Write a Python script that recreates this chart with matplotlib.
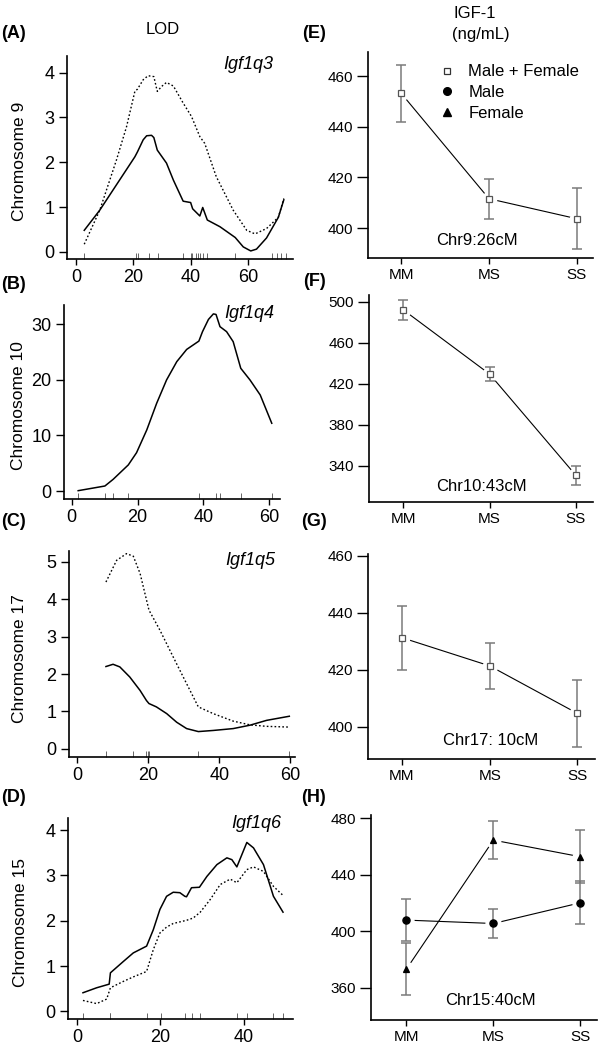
import matplotlib
matplotlib.use('Agg')
import matplotlib.pyplot as plt
from matplotlib.lines import Line2D

plt.rcParams['font.family'] = ['Liberation Sans', 'DejaVu Sans']

# ---------------- data ----------------
# (A) chromosome 9
A_solid_x = [2.9, 8.3, 20.5, 21.4, 23.4, 24.6, 26.3, 27.1, 28.3, 31.5, 33.9, 37.3, 39.9, 40.6,
             43.1, 44.1, 45.7, 50.1, 55.4, 58.2, 60.8, 62.8, 66.3, 70.4, 72.3]
A_solid_y = [0.48, 0.93, 2.12, 2.23, 2.50, 2.59, 2.60, 2.55, 2.27, 1.98, 1.60, 1.13, 1.10, 0.96,
             0.80, 0.99, 0.71, 0.56, 0.32, 0.11, 0.02, 0.06, 0.31, 0.77, 1.16]
A_dot_x = [2.9, 8.3, 14.1, 17.6, 20.5, 21.4, 23.4, 25.1, 27.1, 28.3, 29.8, 31.5, 33.9, 37.3,
           40.2, 43.1, 44.8, 48.8, 54.7, 59.4, 62.3, 66.3, 70.4, 72.3]
A_dot_y = [0.17, 0.93, 2.05, 2.79, 3.58, 3.63, 3.84, 3.93, 3.91, 3.58, 3.69, 3.78, 3.70, 3.32,
           3.02, 2.57, 2.42, 1.68, 0.93, 0.48, 0.40, 0.52, 0.77, 1.19]
A_markers = [2.8, 20.9, 21.5, 25.5, 28.6, 37.3, 39.9, 40.2, 41.7, 42.3, 43.1, 44.1, 45.5,
             55.3, 68.1, 69.8, 71.5, 73.0]

# (B) chromosome 10
B_x = [2.0, 10.1, 12.6, 17.2, 19.7, 22.8, 25.8, 28.8, 31.9, 34.9, 38.6, 39.7, 41.5, 43.0,
       43.8, 45.0, 47.0, 49.0, 51.3, 54.1, 57.2, 60.7]
B_y = [0.06, 0.9, 2.1, 4.7, 6.9, 11.0, 15.8, 20.0, 23.3, 25.5, 27.0, 28.7, 30.9, 31.9,
       31.8, 29.6, 28.7, 26.9, 22.1, 20.0, 17.3, 12.2]
B_markers = [2.0, 10.1, 12.6, 17.2, 38.6, 43.8, 45.0, 51.3, 60.7]

# (C) chromosome 17
C_solid_x = [8.1, 10.1, 12.0, 14.8, 17.7, 19.5, 20.2, 22.3, 25.2, 28.0, 30.8, 34.1, 38.3,
             43.9, 48.6, 53.3, 59.7]
C_solid_y = [2.20, 2.26, 2.19, 1.92, 1.56, 1.29, 1.21, 1.12, 0.94, 0.71, 0.54, 0.46, 0.49,
             0.54, 0.63, 0.76, 0.87]
C_dot_x = [8.1, 11.1, 13.9, 15.8, 17.7, 20.2, 23.3, 27.0, 30.8, 34.1, 38.3, 43.9, 48.6,
           53.3, 59.7]
C_dot_y = [4.46, 5.04, 5.22, 5.15, 4.69, 3.71, 3.17, 2.46, 1.74, 1.12, 0.94, 0.74, 0.64,
           0.60, 0.58]
C_markers = [8.1, 15.6, 19.5, 19.9, 20.2, 34.1, 59.7]

# (D) chromosome 15
D_solid_x = [1.4, 4.7, 7.7, 8.0, 11.1, 13.5, 16.7, 18.3, 19.9, 21.5, 23.1, 24.7, 25.9, 26.3,
             27.5, 29.4, 31.2, 33.6, 36.0, 37.2, 38.4, 40.8, 42.4, 44.8, 47.2, 49.5]
D_solid_y = [0.41, 0.52, 0.60, 0.85, 1.10, 1.29, 1.44, 1.80, 2.25, 2.54, 2.63, 2.62, 2.54, 2.53,
             2.73, 2.74, 2.98, 3.24, 3.39, 3.35, 3.19, 3.73, 3.61, 3.24, 2.54, 2.19]
D_dot_x = [1.4, 4.7, 7.1, 8.0, 11.1, 13.5, 16.7, 18.3, 19.9, 21.5, 23.1, 26.3, 27.9, 29.6,
           32.0, 34.4, 36.8, 38.4, 40.8, 42.4, 44.8, 47.2, 49.5]
D_dot_y = [0.24, 0.17, 0.27, 0.52, 0.66, 0.76, 0.88, 1.36, 1.73, 1.86, 1.94, 2.01, 2.06, 2.19,
           2.47, 2.80, 2.92, 2.84, 3.13, 3.19, 3.09, 2.76, 2.56]
D_markers = [1.4, 7.9, 8.0, 16.7, 20.1, 25.9, 27.5, 29.6, 38.4, 40.8, 47.2, 49.5]

# (E)-(H) IGF-1 by genotype
genotypes = ['MM', 'MS', 'SS']
E_mean = [453.2, 411.6, 403.7]
E_err = [11.3, 7.9, 12.0]
F_mean = [491.9, 429.3, 330.6]
F_err = [9.4, 6.5, 9.5]
G_mean = [431.3, 421.4, 404.7]
G_err = [11.3, 8.0, 11.8]
H_male_mean = [407.9, 405.5, 420.2]
H_male_err = [14.8, 10.1, 15.1]
H_female_mean = [373.1, 464.6, 452.8]
H_female_err = [18.5, 13.4, 18.9]

# ---------------- figure ----------------
W, H = 608, 1050
fig = plt.figure(figsize=(W / 100, H / 100), dpi=100)


def add_axes(l, r, t, b):
    return fig.add_axes([l / W, 1 - b / H, (r - l) / W, (b - t) / H])


def base_style(ax):
    for s in ['top', 'right']:
        ax.spines[s].set_visible(False)
    for s in ['left', 'bottom']:
        ax.spines[s].set_linewidth(1.2)


def lod_panel(ax, solids, dots, markers, xlim, ylim, yticks, xticks, ylabel, name,
              ylab_x, name_xy):
    base_style(ax)
    ax.tick_params(axis='y', which='major', direction='out', length=6, width=1.0,
                   labelsize=13, pad=3)
    ax.tick_params(axis='x', which='major', direction='out', length=4, width=1.0,
                   labelsize=13, pad=3)
    for x, y in solids:
        ax.plot(x, y, color='black', lw=1.1)
    for x, y in dots:
        ax.plot(x, y, color='black', lw=1.0, dashes=(1.2, 1.6))
    ax.set_xlim(*xlim)
    ax.set_ylim(*ylim)
    ax.set_xticks(xticks)
    ax.set_yticks(yticks)
    ax.set_xticks(markers, minor=True)
    ax.tick_params(axis='x', which='minor', direction='in', length=4, width=0.7,
                   color='#666666')
    ax.set_ylabel(ylabel, fontsize=12.5)
    ax.yaxis.set_label_coords(ylab_x, 0.48)
    ax.text(name_xy[0], name_xy[1], name, transform=ax.transAxes, fontsize=13,
            style='italic', ha='center', va='center')


def igf_panel(ax, series, xlim, ylim, yticks, label, label_xy):
    base_style(ax)
    ax.tick_params(axis='y', direction='out', length=8, width=1.0, labelsize=11, pad=3)
    ax.tick_params(axis='x', direction='out', length=4.5, width=1.0, labelsize=11, pad=2.5)
    xs = list(range(len(genotypes)))
    for mean, err, marker, ms, face in series:
        ax.plot(xs, mean, color='black', lw=0.8, zorder=1)
        ax.plot(xs, mean, linestyle='none', marker='o', ms=ms + 5.5, mfc='white',
                mec='white', zorder=2)
        ax.errorbar(xs, mean, yerr=err, fmt='none', ecolor='#7a7a7a', elinewidth=1.1,
                    capsize=3.4, capthick=1.1, zorder=3)
        ax.plot(xs, mean, linestyle='none', marker=marker, ms=ms, mfc=face,
                mec='#555555' if face == 'white' else 'black', mew=0.9, zorder=4)
    ax.set_xlim(*xlim)
    ax.set_ylim(*ylim)
    ax.set_xticks(xs)
    ax.set_xticklabels(genotypes)
    ax.set_yticks(yticks)
    ax.text(label_xy[0], label_xy[1], label, transform=ax.transAxes, fontsize=12,
            ha='center', va='center')


axA = add_axes(67, 293, 56, 259)
lod_panel(axA, [(A_solid_x, A_solid_y)], [(A_dot_x, A_dot_y)], A_markers,
          (-3.1, 75.5), (-0.16, 4.37), [0, 1, 2, 3, 4], [0, 20, 40, 60],
          'Chromosome 9', 'Igf1q3', -0.178, (0.80, 0.956))

axB = add_axes(64, 280, 305, 499)
lod_panel(axB, [(B_x, B_y)], [], B_markers,
          (-2.3, 63.2), (-1.44, 33.5), [0, 10, 20, 30], [0, 20, 40, 60],
          'Chromosome 10', 'Igf1q4', -0.176, (0.858, 0.957))

axC = add_axes(69, 295, 551, 757)
lod_panel(axC, [(C_solid_x, C_solid_y)], [(C_dot_x, C_dot_y)], C_markers,
          (-2.3, 61.3), (-0.22, 5.29), [0, 1, 2, 3, 4, 5], [0, 20, 40, 60],
          'Chromosome 17', 'Igf1q5', -0.187, (0.804, 0.956))

axD = add_axes(68, 293, 818, 1019)
lod_panel(axD, [(D_solid_x, D_solid_y)], [(D_dot_x, D_dot_y)], D_markers,
          (-2.2, 51.9), (-0.17, 4.27), [0, 1, 2, 3, 4], [0, 20, 40],
          'Chromosome 15', 'Igf1q6', -0.176, (0.839, 0.974))

axE = add_axes(368, 593, 52, 258)
igf_panel(axE, [(E_mean, E_err, 's', 4.8, 'white')], (-0.378, 2.185), (388.2, 469.5),
          [400, 420, 440, 460], 'Chr9:26cM', (0.483, 0.085))
handles = [Line2D([], [], ls='none', marker='s', ms=4.8, mfc='white', mec='#333333', mew=0.9),
           Line2D([], [], ls='none', marker='o', ms=5.5, mfc='black', mec='black'),
           Line2D([], [], ls='none', marker='^', ms=5.5, mfc='black', mec='black')]
axE.legend(handles, ['Male + Female', 'Male', 'Female'], loc='upper left',
           bbox_to_anchor=(0.312, 0.94), frameon=False, fontsize=12, handlelength=1.0,
           handletextpad=0.8, labelspacing=0.35, borderaxespad=0, borderpad=0)

axF = add_axes(369, 593, 295, 502)
igf_panel(axF, [(F_mean, F_err, 's', 4.8, 'white')], (-0.40, 2.20), (304.5, 506.5),
          [340, 380, 420, 460, 500], 'Chr10:43cM', (0.503, 0.076))

axG = add_axes(368, 595, 554, 759)
igf_panel(axG, [(G_mean, G_err, 's', 4.8, 'white')], (-0.387, 2.20), (388.7, 460.7),
          [400, 420, 440, 460], 'Chr17: 10cM', (0.538, 0.091))

axH = add_axes(371, 597, 815, 1020)
igf_panel(axH, [(H_male_mean, H_male_err, 'o', 5.2, 'black'),
                (H_female_mean, H_female_err, '^', 5.0, 'black')],
          (-0.406, 2.19), (337.1, 482.4), [360, 400, 440, 480], 'Chr15:40cM', (0.528, 0.094))

# headers and panel letters
def ftext(px, py, s, **kw):
    fig.text(px / W, 1 - py / H, s, ha='center', va='center', **kw)

ftext(163, 29, 'LOD', fontsize=12)
ftext(475, 13, 'IGF-1', fontsize=12)
ftext(481, 35, '(ng/mL)', fontsize=12)
for px, py, s in [(14, 33, '(A)'), (14, 285, '(B)'), (14, 522, '(C)'), (14, 797, '(D)'),
                  (314, 34, '(E)'), (314, 282, '(F)'), (314, 521, '(G)'), (314, 797, '(H)')]:
    ftext(px, py, s, fontsize=13, fontweight='bold')

fig.savefig('out.png', dpi=100)
